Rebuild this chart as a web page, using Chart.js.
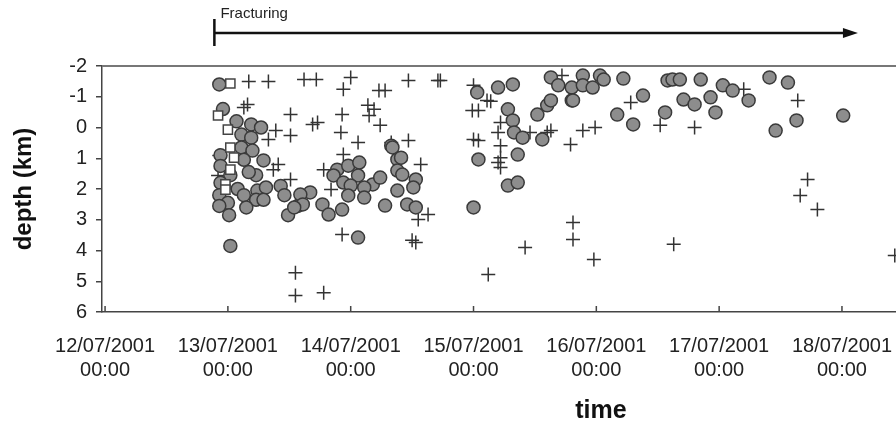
<!DOCTYPE html>
<html>
<head>
<meta charset="utf-8">
<script src="https://cdn.jsdelivr.net/npm/chart.js@4.4.0/dist/chart.umd.min.js"></script>
<style>
  html, body { margin: 0; padding: 0; background: #fff; overflow: hidden; }
  canvas { display: block; }
</style>
</head>
<body>
<canvas id="grafico" width="896" height="433"></canvas>
<script>
// x = day of July 2001 (fractional), y = depth in km
const xTickDays = [12, 13, 14, 15, 16, 17, 18];
const yTicks = [-2, -1, 0, 1, 2, 3, 4, 5, 6];
const fracturingStart = 12.89;
const fracturingEnd = 18.13;

const circles = [
    [12.93, -1.4], [12.96, -0.6], [13.07, -0.2], [13.19, -0.1], [13.27, 0], [13.11, 0.23], [13.19, 0.33],
    [13.11, 0.65], [13.2, 0.75], [12.94, 0.9], [13.13, 1.05], [13.29, 1.07], [12.94, 1.25], [13.02, 1.55],
    [13.23, 1.55], [13.17, 1.45], [12.94, 1.8], [13.08, 2.0], [13.24, 2.05], [13.31, 1.95], [13.43, 1.9],
    [13.13, 2.2], [13.46, 2.2], [12.93, 2.2], [13.23, 2.35], [13.29, 2.35], [13.0, 2.45], [12.93, 2.55],
    [13.15, 2.6], [13.01, 2.85], [13.49, 2.85], [13.57, 2.55], [13.02, 3.85],
    [13.89, 1.37], [13.98, 1.24], [14.07, 1.14], [13.86, 1.56], [14.06, 1.56], [13.94, 1.79], [14.0, 1.89],
    [14.18, 1.85], [14.24, 1.63], [14.11, 1.95], [13.98, 2.21], [14.11, 2.28], [14.33, 0.59], [14.38, 1.04],
    [14.38, 1.4], [13.67, 2.11], [13.59, 2.18], [13.61, 2.5], [13.77, 2.5], [13.82, 2.83], [13.93, 2.67],
    [14.28, 2.54], [13.54, 2.6], [14.06, 3.58],
    [15.03, -1.14], [15.04, 1.04], [14.34, 0.65], [14.41, 0.98], [14.42, 1.53], [14.53, 1.69], [14.51, 1.95],
    [14.38, 2.05], [14.46, 2.5], [14.53, 2.6], [15.0, 2.6],
    [15.2, -1.3], [15.32, -1.4], [15.28, -0.59], [15.32, -0.23], [15.33, 0.16], [15.4, 0.33], [15.36, 0.88],
    [15.28, 1.89], [15.36, 1.79], [15.52, -0.42], [15.6, -0.72], [15.63, -0.88], [15.56, 0.39], [15.63, -1.63],
    [15.69, -1.37], [15.8, -1.3], [15.8, -0.88],
    [15.89, -1.69], [16.03, -1.69], [16.06, -1.56], [16.22, -1.59], [15.89, -1.37], [15.97, -1.3], [15.81, -0.88],
    [16.38, -1.04], [16.17, -0.42], [16.3, -0.1], [16.58, -1.53], [16.62, -1.56], [16.68, -1.56], [16.71, -0.91],
    [16.8, -0.75], [16.56, -0.49],
    [16.85, -1.56], [17.03, -1.37], [17.11, -1.2], [16.93, -0.98], [17.24, -0.88], [16.97, -0.49], [17.41, -1.63],
    [17.56, -1.46], [17.63, -0.23], [17.46, 0.1], [18.01, -0.39]
];

const squares = [
    [13.02, -1.43], [12.92, -0.39], [13.0, 0.07], [13.02, 0.65], [13.05, 0.98], [13.02, 1.37],
    [12.98, 1.85], [12.98, 2.02]
];

const crosses = [
    [13.17, -1.5], [13.33, -1.5], [13.16, -0.75], [13.13, -0.65], [13.39, 0.1], [13.33, 0.39], [13.51, 0.26],
    [13.51, -0.42], [13.41, 1.2], [13.37, 1.37], [13.51, 1.69], [13.55, 4.72], [13.55, 5.46], [12.93, 0.91],
    [12.92, 1.56],
    [13.62, -1.56], [13.72, -1.56], [14.0, -1.63], [13.94, -1.24], [14.23, -1.2], [14.28, -1.2], [13.73, -0.16],
    [13.69, -0.1], [13.93, -0.42], [14.14, -0.72], [14.15, -0.39], [14.19, -0.59], [14.24, -0.07], [13.92, 0.16],
    [14.06, 0.49], [14.33, 0.49], [13.94, 0.88], [13.78, 1.37], [13.84, 2.02], [13.93, 3.48], [13.78, 5.37],
    [14.47, -1.53], [14.71, -1.53], [14.73, -1.53], [15.0, -1.37], [14.99, -0.55], [15.04, -0.55], [15.11, -0.88],
    [14.47, 0.42], [14.57, 1.2], [15.0, 0.39], [15.04, 0.42], [14.63, 2.83], [14.55, 2.99], [14.5, 3.67],
    [14.53, 3.74], [15.12, 4.78],
    [15.14, -0.85], [15.22, -0.16], [15.2, 0.16], [15.22, 0.59], [15.22, 0.98], [15.2, 1.14], [15.22, 1.3],
    [15.46, 0.16], [15.63, 0.1], [15.6, 0.16], [15.79, 0.55], [15.72, -1.69], [15.42, 3.9], [15.81, 3.09],
    [15.81, 3.64],
    [16.28, -0.81], [15.89, 0.1], [15.99, 0], [16.52, -0.07], [16.8, 0], [15.98, 4.29], [16.63, 3.8],
    [17.2, -1.24], [17.64, -0.88], [17.72, 1.69], [17.66, 2.21], [17.8, 2.67], [18.43, 4.16]
];

const FONT = "'Liberation Sans', Arial, sans-serif";
const toXY = arr => arr.map(p => ({ x: p[0], y: p[1] }));

const extras = {
    id: 'extras',
    afterDraw(chart) {
        const { ctx, chartArea: a, scales: { x } } = chart;
        ctx.save();

        // linea superior del marco
        ctx.strokeStyle = '#777';
        ctx.lineWidth = 2;
        ctx.beginPath();
        ctx.moveTo(a.left, a.top);
        ctx.lineTo(a.right, a.top);
        ctx.stroke();

        // marcas del eje x hacia dentro
        ctx.strokeStyle = '#444';
        ctx.lineWidth = 1.5;
        ctx.beginPath();
        xTickDays.forEach(d => {
            const px = x.getPixelForValue(d);
            ctx.moveTo(px, a.bottom);
            ctx.lineTo(px, a.bottom - 6);
        });
        ctx.stroke();

        // flecha de fracturing
        const x0 = x.getPixelForValue(fracturingStart);
        const x1 = x.getPixelForValue(fracturingEnd);
        const ay = 33;
        ctx.strokeStyle = '#111';
        ctx.fillStyle = '#111';
        ctx.lineWidth = 2.5;
        ctx.beginPath();
        ctx.moveTo(x0, 19);
        ctx.lineTo(x0, 46);
        ctx.moveTo(x0, ay);
        ctx.lineTo(x1 - 12, ay);
        ctx.stroke();
        ctx.beginPath();
        ctx.moveTo(x1, ay);
        ctx.lineTo(x1 - 15, ay - 5);
        ctx.lineTo(x1 - 15, ay + 5);
        ctx.closePath();
        ctx.fill();

        ctx.fillStyle = '#222';
        ctx.font = `15px ${FONT}`;
        ctx.textAlign = 'left';
        ctx.textBaseline = 'middle';
        ctx.fillText('Fracturing', x0 + 6, 14);

        // titulos de ejes
        ctx.fillStyle = '#111';
        ctx.font = `bold 25px ${FONT}`;
        ctx.textAlign = 'center';
        ctx.fillText('time', 601, 411);

        ctx.translate(24, (a.top + a.bottom) / 2);
        ctx.rotate(-Math.PI / 2);
        ctx.font = `bold 24px ${FONT}`;
        ctx.fillText('depth (km)', 0, 0);
        ctx.restore();
    }
};

const grafica = new Chart(document.getElementById('grafico'), {
    type: 'scatter',
    data: {
        datasets: [
            {
                label: 'squares',
                data: toXY(squares),
                pointStyle: 'rect',
                pointRadius: 6.5,
                backgroundColor: '#fff',
                borderColor: '#444',
                borderWidth: 1.5,
                order: 0
            },
            {
                label: 'circles',
                data: toXY(circles),
                pointStyle: 'circle',
                pointRadius: 6.5,
                backgroundColor: '#8d8d8d',
                borderColor: '#3a3a3a',
                borderWidth: 1.5,
                order: 1
            },
            {
                label: 'crosses',
                data: toXY(crosses),
                pointStyle: 'cross',
                pointRadius: 7,
                backgroundColor: '#333',
                borderColor: '#333',
                borderWidth: 1.5,
                order: 2
            }
        ]
    },
    options: {
        responsive: false,
        animation: false,
        events: [],
        layout: { autoPadding: false, padding: { top: 66, right: 0, bottom: 0, left: 0 } },
        plugins: { legend: { display: false }, tooltip: { enabled: false } },
        scales: {
            x: {
                type: 'linear',
                min: 11.975,
                max: 18.44,
                afterBuildTicks: s => { s.ticks = xTickDays.map(v => ({ value: v })); },
                afterFit: s => { s.height = 121; s.paddingLeft = 0; s.paddingRight = 0; },
                grid: { drawOnChartArea: false, drawTicks: false },
                border: { color: '#444', width: 1.5 },
                ticks: {
                    padding: 22,
                    color: '#222',
                    font: { family: FONT, size: 20 },
                    maxRotation: 0,
                    autoSkip: false,
                    callback: v => [`${v}/07/2001`, '00:00']
                }
            },
            y: {
                type: 'linear',
                reverse: true,
                min: -2,
                max: 6,
                afterBuildTicks: s => { s.ticks = yTicks.map(v => ({ value: v })); },
                afterFit: s => { s.width = 102; s.paddingTop = 0; s.paddingBottom = 0; },
                grid: { drawOnChartArea: false, drawTicks: true, tickLength: 6, color: '#444', lineWidth: 1.5 },
                border: { color: '#444', width: 1.5 },
                ticks: {
                    padding: 9,
                    color: '#222',
                    font: { family: FONT, size: 20 }
                }
            }
        }
    },
    plugins: [extras]
});
</script>
</body>
</html>
